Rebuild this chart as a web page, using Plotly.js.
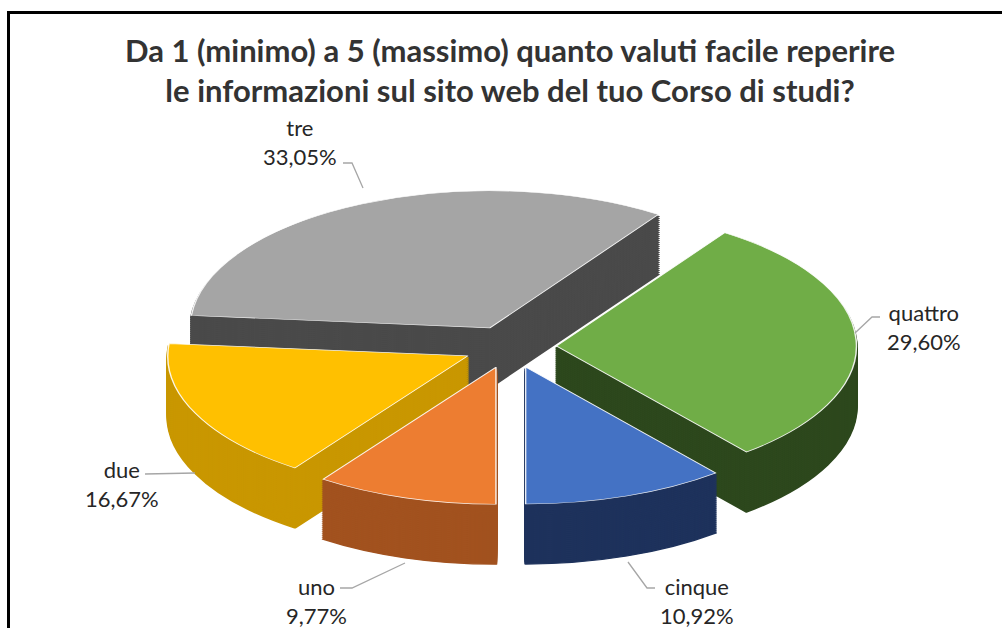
<!DOCTYPE html>
<html><head><meta charset="utf-8">
<script src="https://cdn.plot.ly/plotly-3.0.1.min.js"></script>
<style>html,body{margin:0;padding:0;background:#fff;overflow:hidden}#chart{width:1002px;height:628px}</style>
</head><body><div id="chart"></div>
<script>
// ---- data ----
const categories = ['uno', 'due', 'tre', 'quattro', 'cinque'];
const percentages = [9.77, 16.67, 33.05, 29.60, 10.92];
const titleLines = ['Da 1 (minimo) a 5 (massimo) quanto valuti facile reperire',
                    'le informazioni sul sito web del tuo Corso di studi?'];

// ---- styles ----
const topColors  = ['#ED7D31', '#FFC000', '#A5A5A5', '#70AD47', '#4472C4'];
const sideColors = ['#A2521F', '#C99700', '#4A4A4A', '#2D481D', '#1E325C'];
const W = 1002, H = 628;
const CX = 510, CY = 347, RX = 300, RY = 137, DEPTH = 60, STEP = 2, PULL = 0.155;
// label block centres and leader paths (pixels)
const labelPos = [[316, 601], [122, 484], [300, 142], [924, 327], [697, 601]];
const leaderPx = [
  [[340, 588], [352, 588], [405, 563]],
  [[145, 474], [195, 473]],
  [[343, 163], [352, 163], [363, 188]],
  [[880, 317], [872, 317], [855, 333]],
  [[655, 588], [647, 588], [628, 562]]
];

const px = x => x / W, py = y => 1 - y / H;
const fmt = v => v.toFixed(2).replace('.', ',') + '%';

const traces = [], offsets = [];
function pieTrace(colors, line) {
  return {type: 'pie', labels: categories, values: percentages, sort: false,
    direction: 'clockwise', rotation: 180, pull: PULL,
    marker: {colors: colors, line: line}, textinfo: 'none', hoverinfo: 'skip',
    showlegend: false};
}
for (let d = DEPTH; d > 0; d -= STEP) { traces.push(pieTrace(sideColors, {color: sideColors, width: 2.5})); offsets.push(d); }
traces.push(pieTrace(topColors, {color: 'rgba(255,255,255,0.9)', width: 1.3})); offsets.push(0);

const annotations = categories.map((c, i) => ({
  xref: 'paper', yref: 'paper', x: px(labelPos[i][0]), y: py(labelPos[i][1]),
  xanchor: 'center', yanchor: 'middle', showarrow: false,
  text: c + '<br>' + fmt(percentages[i]),
  font: {family: 'Lato, "Open Sans", sans-serif', size: 22, color: '#262626'}
}));

const shapes = leaderPx.map(pts => ({
  type: 'path', xref: 'paper', yref: 'paper',
  path: pts.map((p, j) => (j ? 'L' : 'M') + px(p[0]) + ',' + py(p[1])).join(' '),
  line: {color: '#A6A6A6', width: 1.3}
}));
shapes.push({type: 'rect', xref: 'paper', yref: 'paper',
  x0: px(8.5), x1: 1.05, y0: -0.05, y1: py(12.5),
  line: {color: '#000', width: 3}, fillcolor: 'rgba(0,0,0,0)'});

const layout = {
  width: W, height: H, margin: {l: 0, r: 0, t: 0, b: 0},
  paper_bgcolor: '#fff', plot_bgcolor: '#fff', showlegend: false,
  title: {text: '<b>' + titleLines.join('<br>') + '</b>', x: 0.509, xanchor: 'center',
    y: py(62), yanchor: 'middle',
    font: {family: 'Lato, "Open Sans", sans-serif', size: 31, color: '#333333'}},
  annotations: annotations, shapes: shapes
};

const gd = document.getElementById('chart');
function squash() {
  const groups = gd.querySelectorAll('.pielayer .trace');
  groups.forEach((g, i) => {
    const cd = gd.calcdata[i] && gd.calcdata[i][0];
    if (!cd) return;
    if (g.__orig === undefined) g.__orig = g.getAttribute('transform') || '';
    const sx = RX / cd.r, sy = RY / cd.r;
    const tx = CX - cd.cx * sx, ty = CY + offsets[i] - cd.cy * sy;
    g.setAttribute('transform', 'translate(' + tx + ',' + ty + ') scale(' + sx + ',' + sy + ') ' + g.__orig);
  });
}
Plotly.newPlot(gd, traces, layout, {staticPlot: true, displayModeBar: false}).then(() => {
  squash();
  gd.on('plotly_afterplot', squash);
});
</script>
</body></html>
